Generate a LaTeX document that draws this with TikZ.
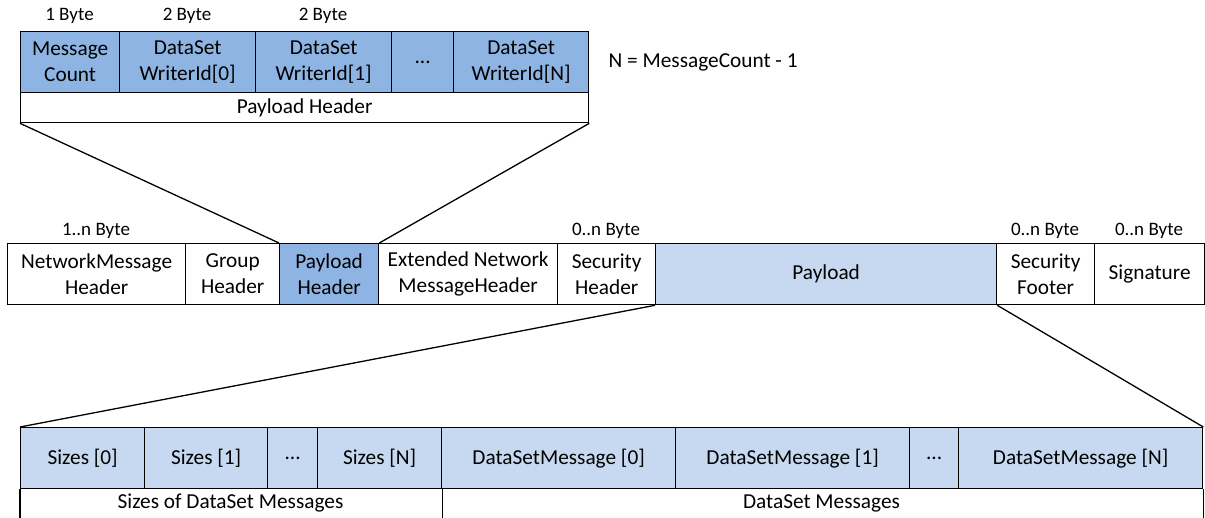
\documentclass[tikz,border=0pt]{standalone}
\usepackage{fontspec}
\setmainfont{Carlito}
\definecolor{dblue}{HTML}{8EB4E3}
\definecolor{lblue}{HTML}{C6D9F1}
\begin{document}
\begin{tikzpicture}[x=1pt,y=-1pt,line width=1.3pt,
  cell/.style={draw=black, inner sep=0pt, align=center, anchor=north west, minimum height=61pt,
    font=\fontsize{21.3}{26}\selectfont},
  dcell/.style={cell, fill=dblue},
  lcell/.style={cell, fill=lblue},
  wcell/.style={cell, fill=white},
  lbl/.style={inner sep=0pt, font=\fontsize{21.3}{26}\selectfont},
  bytelbl/.style={inner sep=0pt, font=\fontsize{19}{22}\selectfont},
  link/.style={draw=black, line width=1.3pt}]
\useasboundingbox (0,0) rectangle (1205,517);

% top table
\node[dcell, minimum width=99pt]  (mc) at (20,31)  {Message\\Count};
\node[dcell, minimum width=136pt] (w0) at (119,31) {DataSet\\WriterId[0]};
\node[dcell, minimum width=136pt] (w1) at (255,31) {DataSet\\WriterId[1]};
\node[dcell, minimum width=62pt]  (wd) at (391,31) {...};
\node[dcell, minimum width=135pt] (wn) at (453,31) {DataSet\\WriterId[N]};
\node[wcell, minimum width=568pt, minimum height=30pt] (ph) at (20,92) {Payload Header};

\node[bytelbl] (b1) at (69.5,16) {1 Byte};
\node[bytelbl] (b2) at (187,16) {2 Byte};
\node[bytelbl] (b3) at (323,16) {2 Byte};
\node[lbl, anchor=west] (nnote) at (608,62) {N = MessageCount - 1};

% middle row
\node[wcell, minimum width=178pt] (nmh) at (7,243)   {NetworkMessage\\Header};
\node[wcell, minimum width=94pt]  (gh)  at (185,243) {Group\\Header};
\node[dcell, minimum width=99pt]  (phd) at (279,243) {Payload\\Header};
\node[wcell, minimum width=179pt] (enh) at (378,243) {Extended Network\\MessageHeader};
\node[wcell, minimum width=98pt]  (sh)  at (557,243) {Security\\Header};
\node[lcell, minimum width=341pt] (pl)  at (655,243) {Payload};
\node[wcell, minimum width=98pt]  (sf)  at (996,243) {Security\\Footer};
\node[wcell, minimum width=110pt] (sig) at (1094,243) {Signature};

\node[bytelbl] (b4) at (96,231)   {1..n Byte};
\node[bytelbl] (b5) at (606,231)  {0..n Byte};
\node[bytelbl] (b6) at (1045,231) {0..n Byte};
\node[bytelbl] (b7) at (1149,231) {0..n Byte};

% bottom row
\node[lcell, minimum width=124pt] (s0) at (20,427)  {Sizes [0]};
\node[lcell, minimum width=123pt] (s1) at (144,427) {Sizes [1]};
\node[lcell, minimum width=50pt]  (sd) at (267,427) {...};
\node[lcell, minimum width=124pt] (sn) at (317,427) {Sizes [N]};
\node[lcell, minimum width=234pt] (d0) at (441,427) {DataSetMessage [0]};
\node[lcell, minimum width=234pt] (d1) at (675,427) {DataSetMessage [1]};
\node[lcell, minimum width=49pt]  (dd) at (909,427) {...};
\node[lcell, minimum width=244pt] (dn) at (958,427) {DataSetMessage [N]};

\node[lbl] (sizeslbl) at (230.5,503) {Sizes of DataSet Messages};
\node[lbl] (dslbl) at (821.5,503) {DataSet Messages};
\draw[link] (s0.south west) -- ++(0,32);
\draw[link] (sn.south east) -- ++(0,32);
\draw[link] (dn.south east) -- ++(0,32);

% connectors
\draw[link] (ph.south west) -- (phd.north west);
\draw[link] (ph.south east) -- (phd.north east);
\draw[link] (pl.south west) -- (s0.north west);
\draw[link] (pl.south east) -- (dn.north east);
\end{tikzpicture}
\end{document}
